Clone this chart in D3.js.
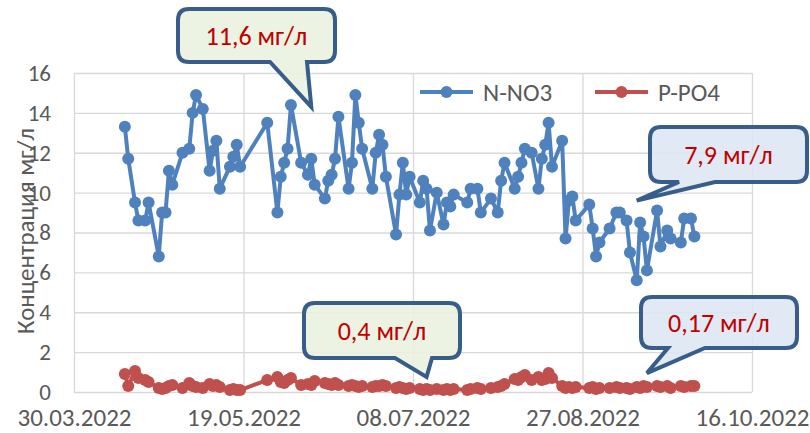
<!DOCTYPE html>
<html>
<head>
<meta charset="utf-8">
<script src="https://cdn.jsdelivr.net/npm/d3@7"></script>
<style>
body { margin: 0; background: #fff; }
text { font-family: Carlito, Calibri, Lato, "Noto Sans", sans-serif; fill: #595959; }
</style>
</head>
<body>
<script>
// sampling dates (same for both series)
var sampleDates = [
    "14.04.2022", "15.04.2022", "17.04.2022", "18.04.2022", "20.04.2022", "21.04.2022", "24.04.2022", "25.04.2022",
    "26.04.2022", "27.04.2022", "28.04.2022", "01.05.2022", "03.05.2022", "04.05.2022", "05.05.2022", "07.05.2022",
    "09.05.2022", "10.05.2022", "11.05.2022", "12.05.2022", "15.05.2022", "16.05.2022", "17.05.2022", "18.05.2022",
    "26.05.2022", "29.05.2022", "30.05.2022", "31.05.2022", "01.06.2022", "02.06.2022", "05.06.2022", "07.06.2022",
    "08.06.2022", "09.06.2022", "12.06.2022", "13.06.2022", "14.06.2022", "15.06.2022", "16.06.2022", "19.06.2022",
    "20.06.2022", "21.06.2022", "22.06.2022", "23.06.2022", "26.06.2022", "27.06.2022", "28.06.2022", "29.06.2022",
    "30.06.2022", "03.07.2022", "04.07.2022", "05.07.2022", "06.07.2022", "07.07.2022", "10.07.2022", "11.07.2022",
    "12.07.2022", "13.07.2022", "15.07.2022", "17.07.2022", "18.07.2022", "19.07.2022", "20.07.2022", "24.07.2022",
    "25.07.2022", "27.07.2022", "28.07.2022", "31.07.2022", "02.08.2022", "03.08.2022", "04.08.2022", "07.08.2022",
    "08.08.2022", "09.08.2022", "10.08.2022", "12.08.2022", "14.08.2022", "15.08.2022", "16.08.2022", "17.08.2022",
    "18.08.2022", "21.08.2022", "22.08.2022", "23.08.2022", "24.08.2022", "25.08.2022", "29.08.2022", "30.08.2022",
    "31.08.2022", "01.09.2022", "04.09.2022", "06.09.2022", "07.09.2022", "09.09.2022", "10.09.2022", "12.09.2022",
    "13.09.2022", "14.09.2022", "15.09.2022", "18.09.2022", "19.09.2022", "21.09.2022", "22.09.2022", "25.09.2022",
    "26.09.2022", "28.09.2022", "29.09.2022"
];

var no3Values = [
    13.3, 11.7, 9.5, 8.6, 8.6, 9.5, 6.8, 9.0,
    9.0, 11.1, 10.4, 12.0, 12.2, 14.0, 14.9, 14.2,
    11.1, 12.1, 12.6, 10.2, 11.3, 11.8, 12.4, 11.3,
    13.5, 9.0, 10.8, 11.5, 12.2, 14.4, 11.5, 10.9,
    11.7, 10.4, 9.7, 10.6, 10.9, 11.7, 13.8, 10.2,
    11.5, 14.9, 13.5, 12.2, 10.2, 12.0, 12.9, 12.4,
    10.8, 7.9, 9.9, 11.5, 9.9, 10.8, 9.5, 10.6,
    10.2, 8.1, 10.0, 8.4, 9.5, 9.3, 9.9, 9.5,
    10.2, 10.2, 9.0, 9.7, 9.0, 10.6, 11.5, 10.2,
    10.8, 11.5, 12.2, 12.0, 10.2, 11.7, 12.4, 13.5,
    11.3, 12.6, 7.7, 9.6, 9.8, 8.6, 9.4, 8.2,
    6.8, 7.5, 8.2, 9.0, 9.0, 8.6, 7.0, 5.6,
    8.5, 7.8, 6.1, 9.1, 7.3, 8.1, 7.7, 7.5,
    8.7, 8.7, 7.8
];

var po4Values = [
    0.9, 0.3, 1.05, 0.7, 0.6, 0.5, 0.2, 0.15,
    0.2, 0.3, 0.35, 0.2, 0.45, 0.3, 0.25, 0.2,
    0.4, 0.3, 0.35, 0.25, 0.1, 0.15, 0.1, 0.1,
    0.6, 0.75, 0.5, 0.45, 0.6, 0.7, 0.35, 0.4,
    0.35, 0.55, 0.45, 0.4, 0.35, 0.45, 0.35, 0.3,
    0.35, 0.3, 0.25, 0.3, 0.25, 0.3, 0.3, 0.35,
    0.3, 0.2, 0.25, 0.2, 0.15, 0.2, 0.15, 0.1,
    0.15, 0.1, 0.15, 0.1, 0.15, 0.1, 0.15, 0.1,
    0.15, 0.2, 0.15, 0.2, 0.25, 0.3, 0.4, 0.65,
    0.6, 0.75, 0.85, 0.6, 0.75, 0.6, 0.65, 0.95,
    0.7, 0.3, 0.2, 0.25, 0.2, 0.25, 0.2, 0.25,
    0.15, 0.2, 0.2, 0.25, 0.2, 0.2, 0.15, 0.25,
    0.2, 0.3, 0.25, 0.3, 0.25, 0.3, 0.2, 0.3,
    0.25, 0.3, 0.3
];

var seriesNames = ["N-NO3", "P-PO4"];
var xTickLabels = ["30.03.2022", "19.05.2022", "08.07.2022", "27.08.2022", "16.10.2022"];
var yTickValues = [0, 2, 4, 6, 8, 10, 12, 14, 16];

var calloutTexts = ["11,6 мг/л", "7,9 мг/л", "0,4 мг/л", "0,17 мг/л"];

var svg = d3.select('body').append('svg')
    .attr('width', 810)
    .attr('height', 433);

var margin = { top: 73, right: 58, bottom: 41, left: 74 },
    width = +svg.attr("width") - margin.left - margin.right,
    height = +svg.attr("height") - margin.top - margin.bottom,
    g = svg.append("g").attr("transform", "translate(" + margin.left + "," + margin.top + ")");

var parseDate = d3.utcParse("%d.%m.%Y");
var colors = ["#4F81BD", "#C0504D"];

var x = d3.scaleUtc()
    .domain([parseDate(xTickLabels[0]), parseDate(xTickLabels[xTickLabels.length - 1])])
    .range([0, width]);

var y = d3.scaleLinear()
    .domain([0, 16])
    .range([height, 0]);

var series = [no3Values, po4Values].map(function (vals, k) {
    return {
        name: seriesNames[k],
        color: colors[k],
        values: vals.map(function (v, i) { return { date: parseDate(sampleDates[i]), value: v }; })
    };
});

// grid + axes
var yAxis = g.append("g")
    .call(d3.axisLeft(y).tickValues(yTickValues).tickSizeInner(-width).tickSizeOuter(0).tickPadding(23));
yAxis.select(".domain").remove();
yAxis.selectAll("line").attr("stroke", "#D9D9D9").attr("stroke-width", 1.3);
yAxis.selectAll("text").style("font-size", "23px").attr("fill", "#595959");

var xAxis = g.append("g")
    .attr("transform", "translate(0," + height + ")")
    .call(d3.axisBottom(x)
        .tickValues(xTickLabels.map(parseDate))
        .tickFormat(d3.utcFormat("%d.%m.%Y"))
        .tickSizeInner(-height).tickSizeOuter(0).tickPadding(16));
xAxis.select(".domain").remove();
xAxis.selectAll("line").attr("stroke", "#D9D9D9").attr("stroke-width", 1.3);
xAxis.selectAll("text").style("font-size", "25px").attr("fill", "#595959");

svg.append("text")
    .attr("transform", "translate(34,231) rotate(-90)")
    .style("text-anchor", "middle")
    .style("font-size", "25px")
    .text("Концентрация мг/л");

// series
var line = d3.line()
    .x(function (d) { return x(d.date); })
    .y(function (d) { return y(d.value); });

var layer = g.selectAll(".series")
    .data(series)
    .enter().append("g")
    .attr("class", "series");

layer.append("path")
    .attr("fill", "none")
    .attr("stroke", function (d) { return d.color; })
    .attr("stroke-width", 4)
    .attr("stroke-linejoin", "round")
    .attr("d", function (d) { return line(d.values); });

layer.each(function (s) {
    d3.select(this).selectAll("circle")
        .data(s.values)
        .enter().append("circle")
        .attr("cx", function (d) { return x(d.date); })
        .attr("cy", function (d) { return y(d.value); })
        .attr("r", 6)
        .attr("fill", s.color);
});

// legend
var legend = svg.append("g")
    .attr("transform", "translate(420,92)")
    .selectAll("g")
    .data(series)
    .enter().append("g")
    .attr("transform", function (d, i) { return "translate(" + (i * 175) + ",0)"; });

legend.append("line")
    .attr("x1", 0).attr("x2", 53)
    .attr("stroke", function (d) { return d.color; })
    .attr("stroke-width", 4);

legend.append("circle")
    .attr("cx", 26.5)
    .attr("r", 6)
    .attr("fill", function (d) { return d.color; });

legend.append("text")
    .attr("x", 63)
    .attr("dy", "0.35em")
    .style("font-size", "25px")
    .text(function (d) { return d.name; });

// callouts: box in pixels, tip anchored on data coordinates
var callouts = [
    { text: calloutTexts[0], fill: "#EBF1DE", box: [178, 9, 335, 62], base: [270, 307], tip: ["08.06.2022", 14.3] },
    { text: calloutTexts[1], fill: "#DCE6F2", box: [650, 127, 807, 182], base: [679, 715], tip: ["12.09.2022", 9.6] },
    { text: calloutTexts[2], fill: "#EBF1DE", box: [304, 303, 460, 358], base: [395, 432], tip: ["12.07.2022", 0.75] },
    { text: calloutTexts[3], fill: "#DCE6F2", box: [641, 297, 797, 348], base: [668, 705], tip: ["15.09.2022", 0.95] }
];

function calloutPath(c) {
    var x0 = c.box[0], y0 = c.box[1], x1 = c.box[2], y1 = c.box[3], r = 11;
    var tx = margin.left + x(parseDate(c.tip[0])), ty = margin.top + y(c.tip[1]);
    return "M" + (x0 + r) + "," + y0 +
        "H" + (x1 - r) + "Q" + x1 + "," + y0 + " " + x1 + "," + (y0 + r) +
        "V" + (y1 - r) + "Q" + x1 + "," + y1 + " " + (x1 - r) + "," + y1 +
        "H" + c.base[1] + "L" + tx + "," + ty + "L" + c.base[0] + "," + y1 +
        "H" + (x0 + r) + "Q" + x0 + "," + y1 + " " + x0 + "," + (y1 - r) +
        "V" + (y0 + r) + "Q" + x0 + "," + y0 + " " + (x0 + r) + "," + y0 + "Z";
}

var callout = svg.append("g")
    .selectAll("g")
    .data(callouts)
    .enter().append("g");

callout.append("path")
    .attr("d", calloutPath)
    .attr("fill", function (d) { return d.fill; })
    .attr("fill-opacity", 0.88)
    .attr("stroke", "#385D8A")
    .attr("stroke-width", 4)
    .attr("stroke-linejoin", "miter");

callout.append("text")
    .attr("x", function (d) { return (d.box[0] + d.box[2]) / 2; })
    .attr("y", function (d) { return (d.box[1] + d.box[3]) / 2; })
    .attr("dy", "0.35em")
    .style("text-anchor", "middle")
    .style("font-size", "26px")
    .style("fill", "#C00000")
    .text(function (d) { return d.text; });
</script>
</body>
</html>
